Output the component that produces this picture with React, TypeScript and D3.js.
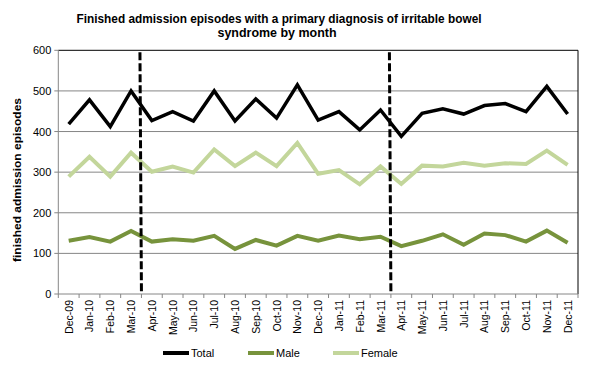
import React from "react";
import * as d3 from "d3";

const months = ["Dec-09","Jan-10","Feb-10","Mar-10","Apr-10","May-10","Jun-10","Jul-10","Aug-10","Sep-10","Oct-10","Nov-10","Dec-10","Jan-11","Feb-11","Mar-11","Apr-11","May-11","Jun-11","Jul-11","Aug-11","Sep-11","Oct-11","Nov-11","Dec-11"];
const total = [418,478,412,500,427,449,426,500,426,480,433,515,428,449,404,453,388,445,456,443,464,469,449,511,443];
const male = [131,140,129,155,129,135,131,143,111,133,119,143,131,144,135,141,118,131,147,121,149,145,129,156,126];
const female = [289,338,289,348,301,314,299,356,315,348,315,372,296,305,270,314,271,316,314,323,316,322,320,353,318];
const yTicks = [0,100,200,300,400,500,600];
const dividers = ["Apr-10","Apr-11"];
const seriesNames = ["Total","Male","Female"];
const seriesColors = ["#000000","#77933C","#C3D69B"];

export default function App() {
  const W = 593, H = 376;
  const left = 58.3, right = 578, top = 50.3, bottom = 294;
  const x = d3.scaleBand<string>().domain(months).range([left, right]);
  const y = d3.scaleLinear().domain([0, 600]).range([bottom, top]);
  const line = d3.line<number>().x((_, i) => (x(months[i]) as number) + x.bandwidth() / 2).y((d) => y(d));
  const series = [total, male, female];
  const font = "Arial, 'Liberation Sans', sans-serif";
  const drawOrder = [2, 1, 0];
  const legendX = [163, 248, 333];
  return (
    <svg width={W} height={H} style={{ position: "absolute", left: 0, top: 0, background: "#fff" }} fontFamily={font}>
      <text x={279} y={23} textAnchor="middle" fontSize={12.5} fontWeight="bold" textLength={405} lengthAdjust="spacingAndGlyphs">Finished admission episodes with a primary diagnosis of irritable bowel</text>
      <text x={277} y={37} textAnchor="middle" fontSize={12.5} fontWeight="bold" textLength={119} lengthAdjust="spacingAndGlyphs">syndrome by month</text>
      {yTicks.map((t) => (
        <g key={t}>
          {t > 0 && t < 600 && <line x1={left} x2={right} y1={y(t)} y2={y(t)} stroke="#868686" strokeWidth={1} />}
          <line x1={left - 4} x2={left} y1={y(t)} y2={y(t)} stroke="#868686" />
          <text x={left - 7} y={y(t) + 4} textAnchor="end" fontSize={11}>{t}</text>
        </g>
      ))}
      <line x1={left} x2={right} y1={top} y2={top} stroke="#000" />
      <line x1={right} x2={right} y1={top} y2={bottom} stroke="#000" />
      <line x1={left} x2={left} y1={top} y2={bottom} stroke="#868686" />
      <line x1={left} x2={right} y1={bottom} y2={bottom} stroke="#868686" />
      {months.concat([""]).map((m, i) => {
        const xx = left + i * x.step();
        return <line key={"t" + i} x1={xx} x2={xx} y1={bottom} y2={bottom + 4} stroke="#868686" />;
      })}
      {months.map((m) => {
        const cx = (x(m) as number) + x.bandwidth() / 2;
        return (
          <text key={m} transform={`translate(${cx + 4},${300}) rotate(-90)`} textAnchor="end" fontSize={10.5}>{m}</text>
        );
      })}
      {drawOrder.map((i) => (
        <path key={seriesNames[i]} d={line(series[i]) as string} fill="none" stroke={seriesColors[i]} strokeWidth={i === 0 ? 3.5 : 4} strokeLinejoin="miter" />
      ))}
      {dividers.map((m) => {
        const xx = x(m) as number;
        return <line key={m} x1={xx - 1.5} x2={xx} y1={top + 2} y2={bottom} stroke="#000" strokeWidth={3} strokeDasharray="8,3" />;
      })}
      <text transform={`translate(21,180) rotate(-90)`} textAnchor="middle" fontSize={11.5} fontWeight="bold" textLength={164} lengthAdjust="spacingAndGlyphs">finished admission episodes</text>
      {seriesNames.map((n, i) => (
        <g key={n}>
          <line x1={legendX[i]} x2={legendX[i] + 26} y1={353} y2={353} stroke={seriesColors[i]} strokeWidth={4} />
          <text x={legendX[i] + 28} y={357} fontSize={11}>{n}</text>
        </g>
      ))}
    </svg>
  );
}
